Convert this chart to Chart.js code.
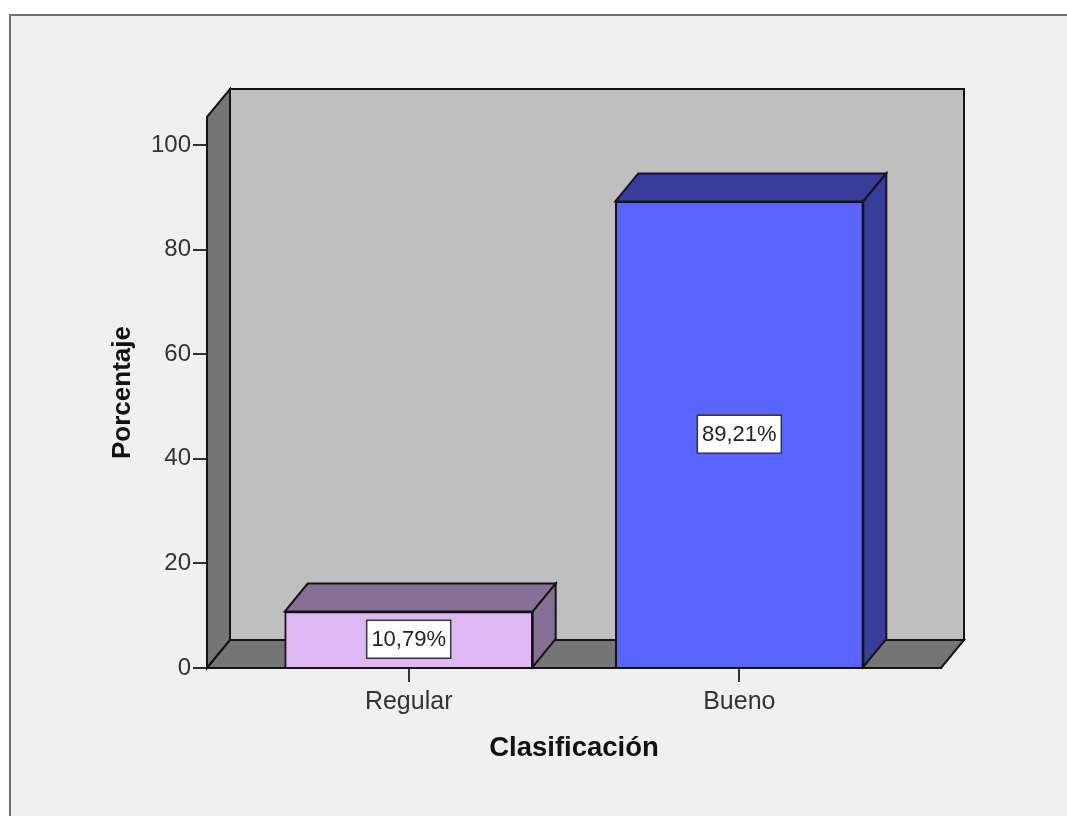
<!DOCTYPE html>
<html>
<head>
<meta charset="utf-8">
<title>Clasificación</title>
<script src="https://cdn.jsdelivr.net/npm/chart.js@4"></script>
<style>
    html, body { margin: 0; padding: 0; background: #fff; overflow: hidden; }
    #frame {
        position: absolute; left: 9px; top: 14px; width: 1100px; height: 850px;
        background: #f0f0f0; border-left: 2px solid #707070; border-top: 2px solid #707070;
    }
    #chart { position: absolute; left: 0; top: 0; }
</style>
</head>
<body>
<div id="frame"></div>
<canvas id="chart" width="1067" height="816"></canvas>
<script>
const categories = ["Regular", "Bueno"];
const percentages = [10.79, 89.21];
const yTicks = [0, 20, 40, 60, 80, 100];

const frontColors = ["#deb8f2", "#5a64ff"];
const shadeColors = ["#877095", "#383c9a"];
const wallColor = "#bfbfbf";
const sideColor = "#757575";
const edgeColor = "#141414";
const depthX = 23;
const depthY = -28;

function face(ctx, points, fill) {
    ctx.beginPath();
    points.forEach((p, i) => i ? ctx.lineTo(p[0], p[1]) : ctx.moveTo(p[0], p[1]));
    ctx.closePath();
    ctx.fillStyle = fill;
    ctx.fill();
    ctx.lineWidth = 2;
    ctx.lineJoin = "miter";
    ctx.strokeStyle = edgeColor;
    ctx.stroke();
}

// back wall, left wall and floor of the box
const boxPlugin = {
    id: "box",
    beforeDatasetsDraw(chart) {
        const { ctx, chartArea: a } = chart;
        ctx.save();
        face(ctx, [[a.left + depthX, a.top + depthY], [a.right + depthX, a.top + depthY],
                   [a.right + depthX, a.bottom + depthY], [a.left + depthX, a.bottom + depthY]], wallColor);
        face(ctx, [[a.left, a.top], [a.left + depthX, a.top + depthY],
                   [a.left + depthX, a.bottom + depthY], [a.left, a.bottom]], sideColor);
        face(ctx, [[a.left, a.bottom], [a.left + depthX, a.bottom + depthY],
                   [a.right + depthX, a.bottom + depthY], [a.right, a.bottom]], sideColor);
        ctx.restore();
    }
};

// top and side faces of the bars, then the value boxes
const barFacesPlugin = {
    id: "barFaces",
    afterDatasetsDraw(chart) {
        const { ctx } = chart;
        const bars = chart.getDatasetMeta(0).data;
        ctx.save();
        bars.forEach((bar, i) => {
            const l = bar.x - bar.width / 2;
            const r = bar.x + bar.width / 2;
            const t = bar.y;
            const b = bar.base;
            face(ctx, [[l, t], [l + depthX, t + depthY], [r + depthX, t + depthY], [r, t]], shadeColors[i]);
            face(ctx, [[r, t], [r + depthX, t + depthY], [r + depthX, b + depthY], [r, b]], shadeColors[i]);
        });
        ctx.font = "22px 'Liberation Sans'";
        ctx.textAlign = "center";
        ctx.textBaseline = "middle";
        bars.forEach((bar, i) => {
            const cy = (bar.y + bar.base) / 2;
            ctx.fillStyle = "#fff";
            ctx.strokeStyle = "#333";
            ctx.lineWidth = 1.5;
            ctx.fillRect(bar.x - 42, cy - 19, 84, 38);
            ctx.strokeRect(bar.x - 42, cy - 19, 84, 38);
            ctx.fillStyle = "#222";
            ctx.fillText(percentages[i].toFixed(2).replace(".", ",") + "%", bar.x, cy + 1);
        });
        ctx.restore();
    }
};

new Chart(document.getElementById("chart").getContext("2d"), {
    type: "bar",
    data: {
        datasets: [{
            data: categories.map((c, i) => ({ x: i, y: percentages[i] })),
            backgroundColor: frontColors,
            borderColor: edgeColor,
            borderWidth: 2,
            barThickness: 248
        }]
    },
    options: {
        responsive: false,
        animation: false,
        layout: { padding: { top: 117, right: 126, left: 0, bottom: 0 } },
        plugins: { legend: { display: false }, tooltip: { enabled: false } },
        scales: {
            x: {
                type: "linear",
                offset: false,
                min: -0.61,
                max: 1.61,
                afterFit: s => { s.height = 148; },
                grid: { offset: false, drawOnChartArea: false, tickLength: 14, color: "#333", lineWidth: 2 },
                border: { color: edgeColor, width: 2 },
                ticks: {
                    stepSize: 1,
                    includeBounds: false,
                    maxRotation: 0,
                    padding: 5,
                    color: "#333",
                    font: { family: "'Liberation Sans'", size: 25 },
                    callback: v => categories[v]
                },
                title: {
                    display: true,
                    text: "Clasificación",
                    color: "#111",
                    font: { family: "'Liberation Sans'", size: 27.5, weight: "bold" },
                    padding: { top: 0, bottom: 51 }
                }
            },
            y: {
                min: 0,
                max: 105.35,
                afterFit: s => { s.width = 207; },
                grid: { drawOnChartArea: false, tickLength: 14, color: "#333", lineWidth: 2 },
                border: { color: edgeColor, width: 2 },
                afterBuildTicks: s => { s.ticks = yTicks.map(v => ({ value: v })); },
                ticks: {
                    padding: 2,
                    color: "#333",
                    font: { family: "'Liberation Sans'", size: 24 }
                },
                title: {
                    display: true,
                    text: "Porcentaje",
                    color: "#111",
                    font: { family: "'Liberation Sans'", size: 26, weight: "bold" },
                    padding: { top: 107, bottom: 0 }
                }
            }
        }
    },
    plugins: [boxPlugin, barFacesPlugin]
});
</script>
</body>
</html>
